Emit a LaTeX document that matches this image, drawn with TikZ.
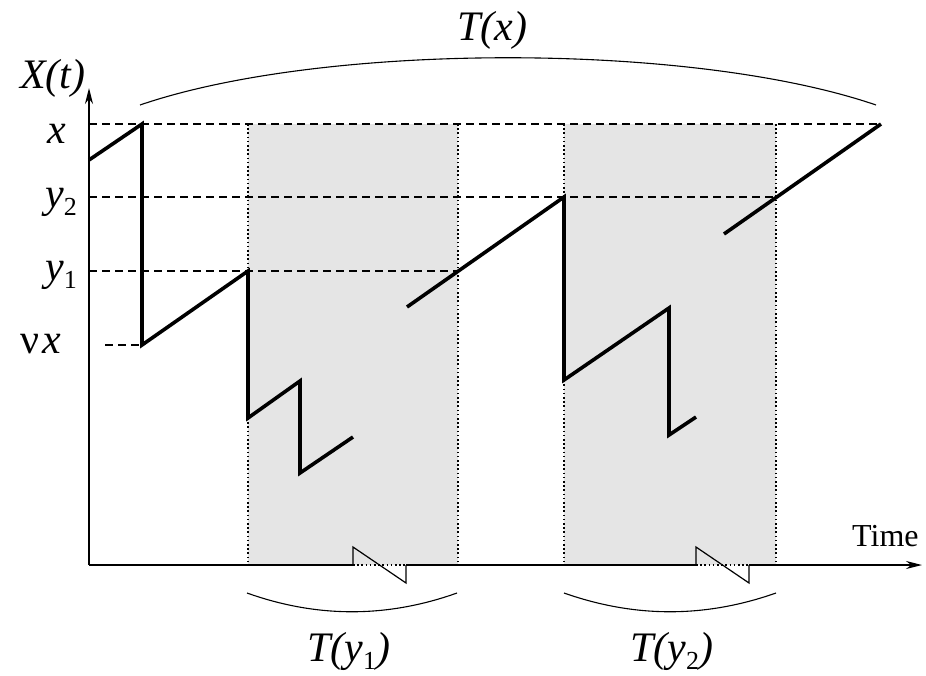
\documentclass[tikz,border=0pt]{standalone}
\usepackage{fontspec}
\setmainfont{Liberation Serif}
\usetikzlibrary{arrows.meta}
\definecolor{cshade}{RGB}{229,229,229}
\newcommand{\lsub}[1]{\raisebox{-8pt}{\fontsize{26}{26}\selectfont\upshape #1}}

\begin{document}
\begin{tikzpicture}[x=1pt, y=-1pt,
  lab/.style={inner sep=0pt, anchor=base west, font=\fontsize{42}{42}\selectfont\itshape},
  level/.style={line width=1.1pt, dash pattern=on 8pt off 5pt},
  bound/.style={line width=1.1pt, dash pattern=on 1.6pt off 2.6pt},
  axis/.style={line width=1.6pt},
  saw/.style={line width=3.6pt, line join=miter},
  span/.style={line width=1.1pt}]
\useasboundingbox (0,0) rectangle (926,675);
\fill[cshade] (248,124) rectangle (458,565);
\fill[cshade] (564,124) rectangle (776,565);
\foreach \xb in {248,458,564,776}
  \draw[bound] (\xb,124) -- (\xb,565);
\draw[level] (89,124) -- (881,124);
\draw[level] (89,197) -- (776,197);
\draw[level] (89,271) -- (458,271);
\draw[level] (105,345) -- (142,345);
% axes with breaks
\draw[axis, -{Stealth[length=16pt, width=8pt]}] (89,565) -- (89,88);
\draw[axis] (89,565) -- (353,565);
\draw[line width=1.2pt] (353,565) -- (353,547) -- (406,583) -- (406,565);
\draw[bound] (353,565) -- (406,565);
\draw[axis] (406,565) -- (696,565);
\draw[line width=1.2pt] (696,565) -- (696,547) -- (749,583) -- (749,565);
\draw[bound] (696,565) -- (749,565);
\draw[axis, -{Stealth[length=16pt, width=8pt]}] (749,565) -- (922,565);
% sample path
\draw[saw] (89,160) -- (142,124) -- (142,345) -- (248,271) -- (248,418)
  -- (300,381) -- (300,473) -- (353,437);
\draw[saw] (407,307) -- (564,197) -- (564,380) -- (669,308) -- (669,435)
  -- (696,417);
\draw[saw] (724,234) -- (881,124);
% spans
\draw[span] (140,105) .. controls (324,42) and (692,42) .. (876,105);
\draw[span] (247,593) .. controls (317,618) and (387,618) .. (457,593);
\draw[span] (564,593) .. controls (635,618) and (705,618) .. (776,593);
\node[lab] (tx) at (457,40) {T(x)};
\node[lab] (ty1) at (307,661) {T(y\lsub{1})};
\node[lab] (ty2) at (630,661) {T(y\lsub{2})};
\node[lab] (xt) at (20,88) {X(t)};
\node[lab] (lx) at (47,143) {x};
\node[lab] (ly2) at (45,207) {y\lsub{2}};
\node[lab] (ly1) at (45,280) {y\lsub{1}};
\node[lab] (lnu) at (20,353) {\upshape ν\hspace{3pt}\itshape x};
\node[lab, font=\fontsize{32}{32}\selectfont] (time) at (852,546) {Time};
\end{tikzpicture}
\end{document}
